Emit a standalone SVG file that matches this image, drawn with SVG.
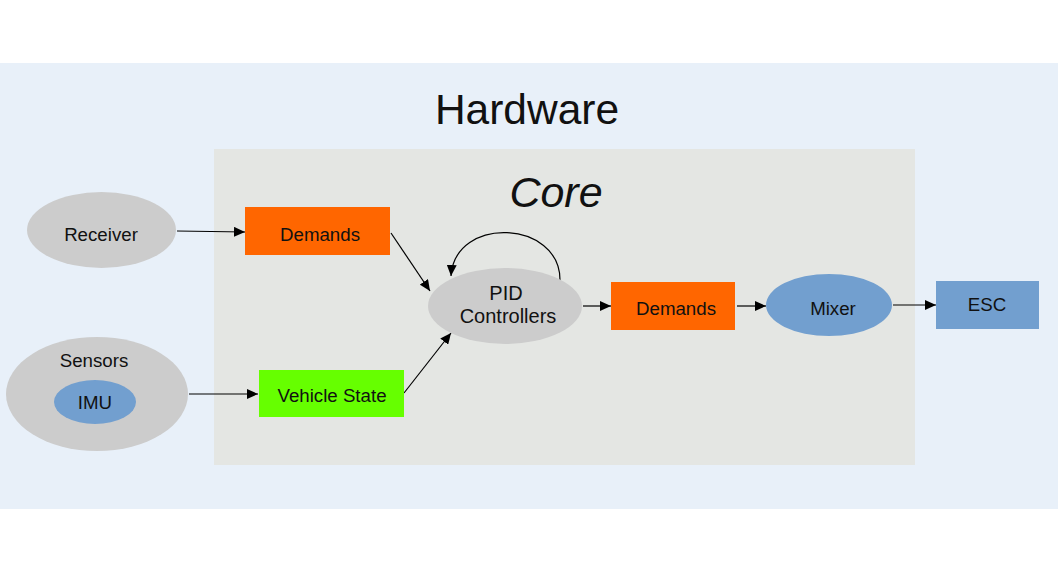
<svg xmlns="http://www.w3.org/2000/svg" width="1058" height="578" viewBox="0 0 1058 578">
<style>
text{font-family:"Liberation Sans",Arial,sans-serif;fill:#111;text-anchor:middle}
.lbl{font-size:18.7px}
.big{font-size:20px}
.edge{stroke:#000;stroke-width:1.2;fill:none;marker-end:url(#ah)}
</style>
<defs>
<marker id="ah" markerUnits="userSpaceOnUse" markerWidth="12" markerHeight="10" refX="11" refY="5" orient="auto">
<path d="M0,0 L11,5 L0,10 z" fill="#000"/>
</marker>
</defs>
<rect width="1058" height="578" fill="#fff"/>
<g id="hardware">
<rect x="0" y="63" width="1058" height="446" fill="#e8f0f9"/>
<text x="527" y="124" font-size="42.5">Hardware</text>
</g>
<g id="core">
<rect x="214" y="149" width="701" height="316" fill="#e4e6e3"/>
<text x="556" y="207" font-size="43" font-style="italic">Core</text>
</g>
<g id="connectors">
<path class="edge" d="M177,231 L245,232"/>
<path class="edge" d="M391,233 L430,291"/>
<path class="edge" d="M404,393 L451,333"/>
<path class="edge" d="M560,280 C560,220 455,215 451,276"/>
<path class="edge" d="M583,306 L611,306"/>
<path class="edge" d="M737,306 L766,306"/>
<path class="edge" d="M893,305 L936,305"/>
<path class="edge" d="M189,394 L258,394"/>
</g>
<g id="receiver">
<ellipse cx="101.5" cy="230" rx="74.5" ry="38" fill="#cccccc"/>
<text class="lbl" x="101" y="241">Receiver</text>
</g>
<g id="demands1">
<rect x="245" y="207" width="145" height="48" fill="#ff6600"/>
<text class="lbl" x="320" y="241">Demands</text>
</g>
<g id="sensors">
<ellipse cx="97" cy="394" rx="91" ry="57" fill="#cccccc"/>
<text class="lbl" x="94" y="367">Sensors</text>
</g>
<g id="imu">
<ellipse cx="95" cy="402" rx="41" ry="22" fill="#729fcf"/>
<text class="lbl" x="95" y="409">IMU</text>
</g>
<g id="vehicle-state">
<rect x="259" y="370" width="145" height="47" fill="#66ff00"/>
<text class="lbl" x="332" y="402">Vehicle State</text>
</g>
<g id="pid">
<ellipse cx="505" cy="306" rx="77" ry="38" fill="#cccccc"/>
<text class="big" x="506" y="300">PID</text>
<text class="big" x="508" y="323">Controllers</text>
</g>
<g id="demands2">
<rect x="611" y="282" width="124" height="48" fill="#ff6600"/>
<text class="lbl" x="676" y="315">Demands</text>
</g>
<g id="mixer">
<ellipse cx="829" cy="305" rx="63" ry="31" fill="#729fcf"/>
<text class="lbl" x="833" y="315">Mixer</text>
</g>
<g id="esc">
<rect x="936" y="281" width="103" height="48" fill="#729fcf"/>
<text class="lbl" x="987" y="311">ESC</text>
</g>
</svg>
